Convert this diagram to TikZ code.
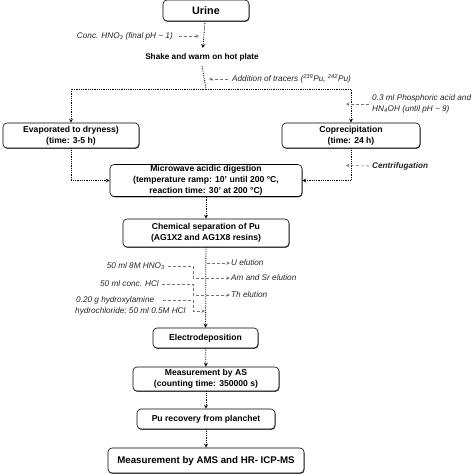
\documentclass[tikz,border=0pt]{standalone}
\usepackage{fontspec}
\setmainfont{Liberation Sans}
\usetikzlibrary{positioning, arrows, shadows}
\tikzset{
	>=stealth, % arrow heads of all connectors
	stepbox/.style={draw, rounded corners=4pt, semithick, fill=white, align=center, inner sep=1pt,
		font=\bfseries\fontsize{8.6}{11}\selectfont,
		drop shadow={shadow xshift=0.5pt, shadow yshift=-0.9pt, fill=black, opacity=0.7}}, % boxes of the main steps
	flow/.style={->, thick, densely dotted}, % main dotted connectors
	note/.style={font=\itshape\fontsize{8.2}{10.5}\selectfont, text=black!85, inner sep=1pt, align=left}, % side remarks
	hint/.style={->, black!55, densely dashed, semithick}, % grey arrows of the remarks
}
\begin{document}
\begin{tikzpicture}[x=1pt, y=1pt]
	\useasboundingbox (0,0) rectangle (474,-474);
	% main steps
	\node[stepbox, minimum width=86pt, minimum height=21pt, font=\bfseries\fontsize{10.8}{13}\selectfont] (urine) at (206,-10.5) {Urine};
	\node[font=\bfseries\fontsize{8.2}{10}\selectfont, inner sep=5pt] (shake) at (202,-57) {Shake and warm on hot plate};
	\node[stepbox, minimum width=136pt, minimum height=25pt] (evap) at (71,-135.5) {Evaporated to dryness)\\(time: 3-5 h)};
	\node[stepbox, minimum width=138pt, minimum height=25pt] (copr) at (351,-135.5) {Coprecipitation\\(time: 24 h)};
	\node[stepbox, minimum width=192pt, minimum height=31pt] (micro) at (206,-180.5) {Microwave acidic digestion\\(temperature ramp: 10' until 200 °C,\\reaction time: 30' at 200 °C)};
	\node[stepbox, minimum width=166pt, minimum height=28pt] (chem) at (206,-233) {Chemical separation of Pu\\(AG1X2 and AG1X8 resins)};
	\node[stepbox, minimum width=105pt, minimum height=20pt] (electro) at (205.5,-338) {Electrodeposition};
	\node[stepbox, minimum width=146pt, minimum height=24pt] (measas) at (206,-379) {Measurement by AS\\(counting time: 350000 s)};
	\node[stepbox, minimum width=138pt, minimum height=20pt] (recov) at (206,-419) {Pu recovery from planchet};
	\node[stepbox, minimum width=196pt, minimum height=25pt, font=\bfseries\fontsize{9.7}{12}\selectfont] (final) at (206,-460.5) {Measurement by AMS and HR- ICP-MS};

	% remarks
	\node[note, anchor=east] (hno) at (174,-36) {Conc. HNO\textsubscript{3} (final pH \textasciitilde{} 1)};
	\node[note, anchor=west] (tracer) at (231,-79) {Addition of tracers (\textsuperscript{239}Pu, \textsuperscript{242}Pu)};
	\node[note, anchor=west] (phos) at (371,-104) {0.3 ml Phosphoric acid and\\HN\textsubscript{4}OH (until pH \textasciitilde{} 9)};
	\node[note, anchor=west, font=\bfseries\itshape\fontsize{8.2}{10}\selectfont] (centr) at (371,-166) {Centrifugation};
	\node[note, anchor=east] (hnob) at (166,-266) {50 ml 8M HNO\textsubscript{3}};
	\node[note, anchor=east] (hcl) at (160,-284) {50 ml conc. HCl};
	\node[note, anchor=west] (hydro) at (75,-300) {0.20 g hydroxylamine};
	\node[note, anchor=west] (hydrob) at (74,-311) {hydrochloride; 50 ml 0.5M HCl};
	\node[note, anchor=west] (uel) at (230,-263) {U elution};
	\node[note, anchor=west] (amel) at (230,-278) {Am and Sr elution};
	\node[note, anchor=west] (thel) at (230,-295) {Th elution};

	% free ends and bends
	\coordinate (split) at (206,-89);
	\coordinate (hnoend) at (199,-36);
	\coordinate (tracerend) at (209,-79);
	\coordinate (phosend) at (346,-104);
	\coordinate (centrend) at (346,-165.5);
	\coordinate (uelstart) at (207,-263);
	\coordinate (hydroend) at (205,-311);

	% main flow
	\draw[flow] (urine) -- (shake);
	\draw[thick, densely dotted] (shake.south) -- (split);
	\draw[flow] (split) -| (evap.north);
	\draw[flow] (split) -| (copr.north);
	\draw[flow] (evap.south) |- (micro.west);
	\draw[flow] (copr.south) |- (micro.east);
	\draw[flow] (micro) -- (chem);
	\draw[flow] (chem) -- (electro);
	\draw[flow] (electro) -- (measas);
	\draw[flow] (measas) -- (recov);
	\draw[flow] (recov) -- (final);

	% remark arrows
	\draw[hint] ([xshift=5pt]hno.east) -- (hnoend);
	\draw[hint] ([xshift=-3pt]tracer.west) -- (tracerend);
	\draw[hint] ([xshift=-2pt]phos.west) -- (phosend);
	\draw[hint] ([xshift=-2pt]centr.west) -- (centrend);
	\draw[hint] (uelstart) -- (uel.west);
	\draw[hint] ([xshift=2pt]hnob.east) -- (193,-266) |- (amel.west);
	\draw[hint] ([xshift=2pt]hcl.east) -- (193,-284) |- (thel.west);
	\draw[hint] ([xshift=8pt]hydro.east) -- (193,-300) |- (hydroend);
\end{tikzpicture}
\end{document}
